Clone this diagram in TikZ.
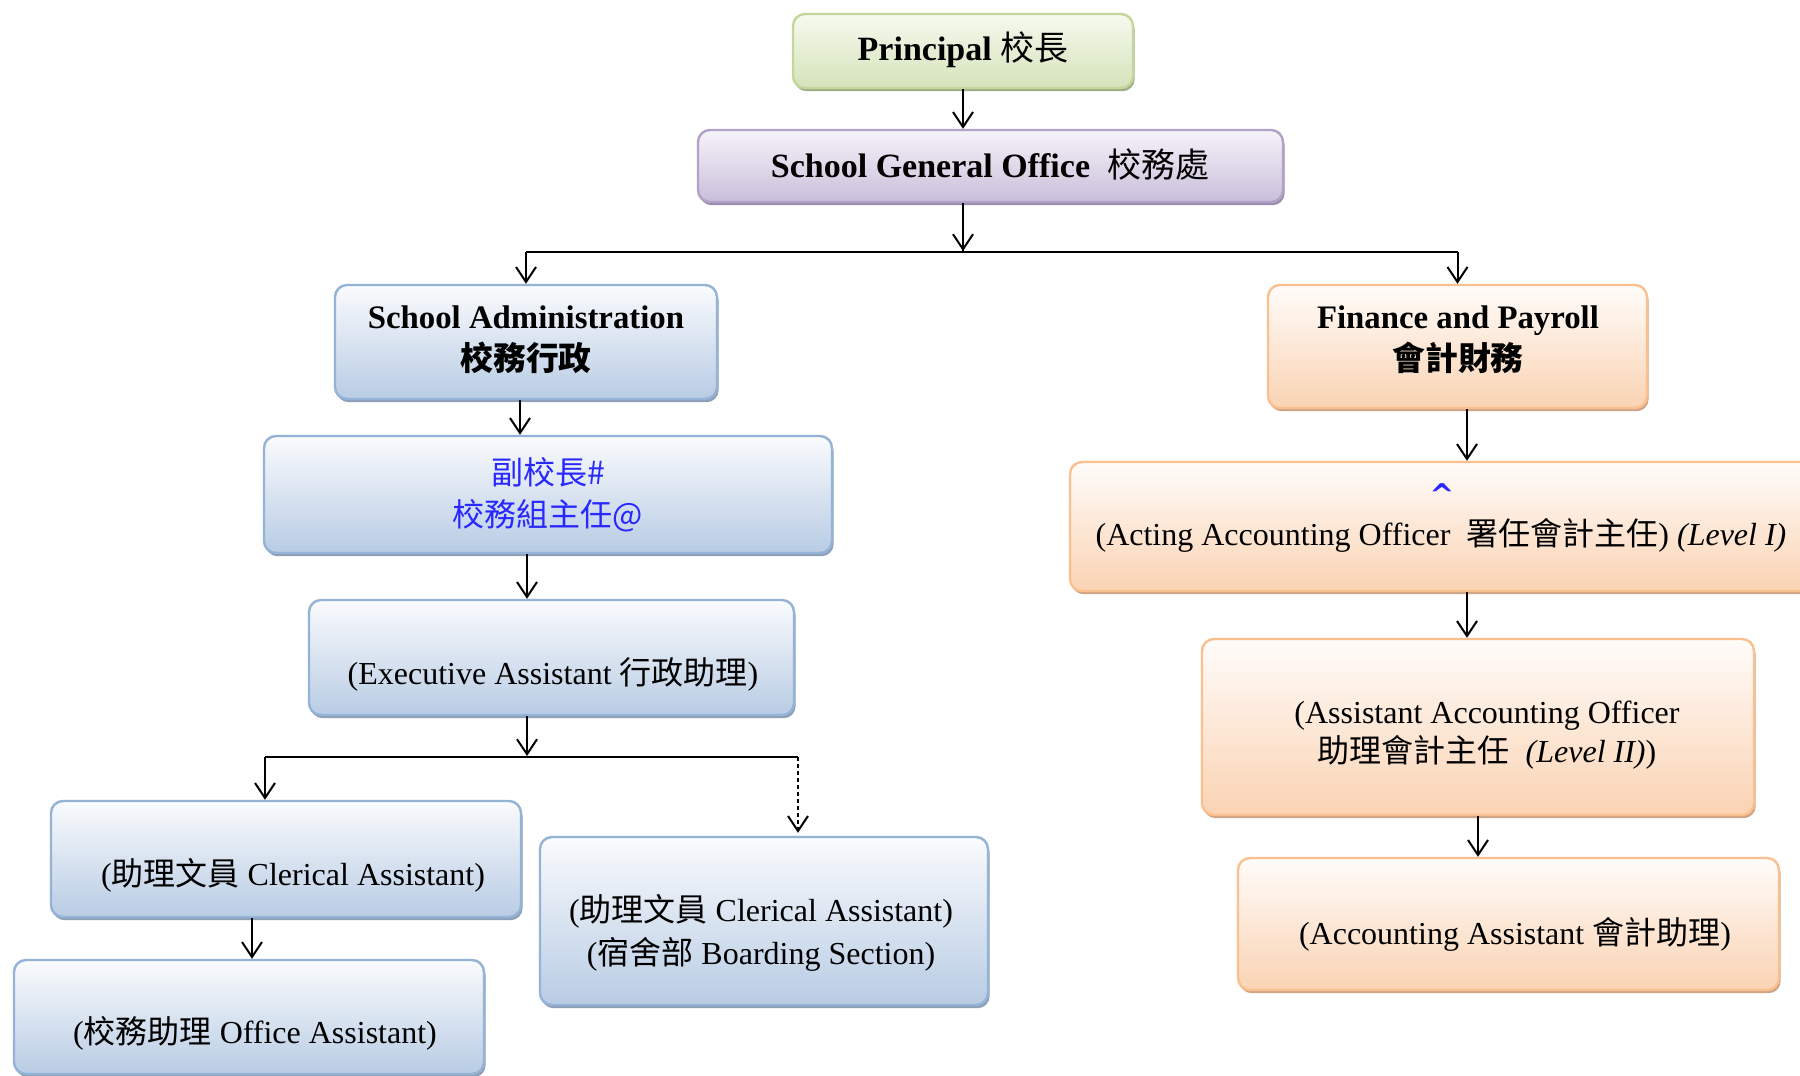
\documentclass[tikz,border=0pt]{standalone}
\usepackage{fontspec}
\setmainfont{Liberation Serif}
\newfontfamily\cjk{Noto Sans CJK TC}
\newfontfamily\caretfont{DejaVu Sans}
\usetikzlibrary{arrows.meta,shadows}
\definecolor{gD}{HTML}{C3D69B}\definecolor{gT}{HTML}{F6F9EF}\definecolor{gB}{HTML}{D5E3BA}\definecolor{gS}{HTML}{9FAE86}
\definecolor{pD}{HTML}{B3A2C7}\definecolor{pT}{HTML}{F6F3F9}\definecolor{pB}{HTML}{C9BEDA}\definecolor{pS}{HTML}{9A8DAC}
\definecolor{bD}{HTML}{95B3D7}\definecolor{bT}{HTML}{FAFBFD}\definecolor{bB}{HTML}{B8CCE4}\definecolor{bS}{HTML}{8DA0B8}
\definecolor{oD}{HTML}{FAC090}\definecolor{oT}{HTML}{FFFCFA}\definecolor{oB}{HTML}{FAD3B3}\definecolor{oS}{HTML}{CFA585}
\definecolor{vpblue}{RGB}{40,40,255}
\begin{document}
\begin{tikzpicture}[x=0.5pt,y=-0.5pt,
  box/.style={rounded corners=6pt, line width=1.2pt, inner sep=0pt},
  gbox/.style={box, draw=gD, top color=gT, bottom color=gB, drop shadow={shadow xshift=0.8pt, shadow yshift=-1.6pt, fill=gS, opacity=1}},
  pbox/.style={box, draw=pD, top color=pT, bottom color=pB, drop shadow={shadow xshift=0.8pt, shadow yshift=-1.6pt, fill=pS, opacity=1}},
  bbox/.style={box, draw=bD, top color=bT, bottom color=bB, drop shadow={shadow xshift=0.8pt, shadow yshift=-1.6pt, fill=bS, opacity=1}},
  obox/.style={box, draw=oD, top color=oT, bottom color=oB, drop shadow={shadow xshift=0.8pt, shadow yshift=-1.6pt, fill=oS, opacity=1}},
  txt/.style={inner sep=0pt, align=center, font=\fontsize{16}{19.5}\selectfont},
  ttl/.style={inner sep=0pt, align=center, font=\bfseries\fontsize{17}{19.5}\selectfont},
  conn/.style={line width=1pt, black},
  arr/.style={conn, -{Straight Barb[length=7.5pt,width=10pt,line width=1pt]}}
]
\useasboundingbox (0,0) rectangle (1800,1076);
\clip (0,0) rectangle (1800,1076);
\fill[white] (0,0) rectangle (1800,1076);
% boxes
\node[gbox, minimum width=170pt, minimum height=37pt] (pr) at (963,51) {};
\node[pbox, minimum width=292.5pt, minimum height=36pt] (go) at (990.5,166) {};
\node[bbox, minimum width=191pt, minimum height=57pt] (sa) at (526,342) {};
\node[obox, minimum width=189.5pt, minimum height=61.5pt] (fin) at (1457.5,346.5) {};
\node[bbox, minimum width=284pt, minimum height=58.5pt] (vp) at (548,494.5) {};
\node[obox, minimum width=380pt, minimum height=64.5pt] (act) at (1450,526.5) {};
\node[bbox, minimum width=242.5pt, minimum height=57.5pt] (ea) at (551.5,657.5) {};
\node[bbox, minimum width=235pt, minimum height=58pt] (ca) at (286,859) {};
\node[bbox, minimum width=224pt, minimum height=84pt] (bs) at (764,921) {};
\node[bbox, minimum width=235pt, minimum height=57pt] (oa) at (249,1017) {};
\node[obox, minimum width=276pt, minimum height=88pt] (aao) at (1478,727) {};
\node[obox, minimum width=270.5pt, minimum height=66pt] (aa) at (1508.5,924) {};
% texts
\node[ttl] (prT) at (963,50) {Principal {\cjk\mdseries 校長}};
\node[ttl] (goT) at (990,165) {School General Office\ \ {\cjk\mdseries 校務處}};
\node[ttl, font=\bfseries\fontsize{16.4}{21}\selectfont] (saT) at (526,340) {School Administration\\{\cjk 校務行政}};
\node[ttl, font=\bfseries\fontsize{16.4}{21}\selectfont] (finT) at (1458,340) {Finance and Payroll\\{\cjk 會計財務}};
\node[txt, text=vpblue, font=\cjk\fontsize{16}{21}\selectfont] (vpT) at (548,495) {副校長\#\\校務組主任@};
\node[txt, text=vpblue, font=\caretfont\bfseries\fontsize{15}{15}\selectfont] (caret) at (1442,495) {\textasciicircum};
\node[txt] (actT) at (1441,535.5) {(Acting Accounting Officer\ \ {\cjk 署任會計主任}) \textit{(Level I)}};
\node[txt] (eaT) at (553,674.5) {(Executive Assistant {\cjk 行政助理})};
\node[txt] (caT) at (293,875.5) {({\cjk 助理文員} Clerical Assistant)};
\node[txt, font=\fontsize{16}{21.5}\selectfont] (bsT) at (761,933) {({\cjk 助理文員} Clerical Assistant)\\({\cjk 宿舍部} Boarding Section)};
\node[txt] (oaT) at (255,1033.5) {({\cjk 校務助理} Office Assistant)};
\node[txt] (aaoT) at (1487,735) {(Assistant Accounting Officer\\{\cjk 助理會計主任}\ \ \textit{(Level II)})};
\node[txt] (aaT) at (1515,934) {(Accounting Assistant {\cjk 會計助理})};
% connectors
\coordinate (bus) at (963,252);
\coordinate (bus2) at (527,757);
\coordinate (b2l) at (265,757);
\coordinate (b2r) at (798,757);
\coordinate (fx) at (1467,0);
\draw[arr] (pr.south) -- (pr.south |- go.north);
\draw[conn] (go.south -| bus) -- (bus);
\draw[arr] (go.south -| bus) -- ([yshift=0.5pt]bus);
\draw[conn] (sa.north |- bus) -- (fin.north |- bus);
\draw[arr] (sa.north |- bus) -- (sa.north);
\draw[arr] (fin.north |- bus) -- (fin.north);
\draw[arr] ([xshift=-3pt]sa.south) -- ([xshift=-3pt]sa.south |- vp.north);
\draw[arr] (vp.south -| bus2) -- (ea.north -| bus2);
\draw[arr] (ea.south -| bus2) -- ([yshift=0.5pt]bus2);
\draw[conn] (b2l) -- (b2r);
\draw[arr] (b2l) -- (b2l |- ca.north);
\draw[arr, line width=1.3pt, dash pattern=on 2pt off 1.5pt] (b2r) -- ([yshift=1.5pt]b2r |- bs.north);
\draw[arr] ([xshift=-17pt]ca.south) -- ([xshift=-17pt]ca.south |- oa.north);
\draw[arr] (fin.south -| fx) -- (act.north -| fx);
\draw[arr] (act.south -| fx) -- (aao.north -| fx);
\draw[arr] (aao.south) -- (aao.south |- aa.north);
\end{tikzpicture}
\end{document}
